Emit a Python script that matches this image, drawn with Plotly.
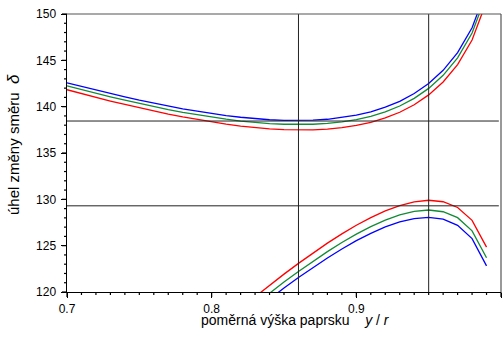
import plotly.graph_objects as go

# ratio y/r
x_vals = [0.70, 0.71, 0.72, 0.73, 0.74, 0.75, 0.76, 0.77, 0.78, 0.79,
          0.80, 0.81, 0.82, 0.83, 0.84, 0.85, 0.86, 0.87, 0.88, 0.89,
          0.90, 0.91, 0.92, 0.93, 0.94, 0.95, 0.96, 0.97, 0.98, 0.99]

# upper family (primary)
red_upper = [141.83, 141.41, 141.00, 140.61, 140.24, 139.87, 139.53, 139.20, 138.89, 138.62,
             138.35, 138.12, 137.91, 137.74, 137.61, 137.52, 137.49, 137.50, 137.58, 137.73,
             137.97, 138.31, 138.78, 139.40, 140.21, 141.27, 142.66, 144.54, 147.19, 151.36]
green_upper = [142.25, 141.84, 141.45, 141.06, 140.70, 140.34, 140.01, 139.69, 139.39, 139.13,
               138.87, 138.65, 138.45, 138.29, 138.17, 138.10, 138.07, 138.10, 138.19, 138.35,
               138.61, 138.96, 139.44, 140.07, 140.90, 141.97, 143.38, 145.27, 147.94, 152.13]
blue_upper = [142.57, 142.17, 141.78, 141.40, 141.05, 140.70, 140.37, 140.06, 139.77, 139.51,
              139.26, 139.04, 138.86, 138.71, 138.59, 138.53, 138.51, 138.54, 138.64, 138.82,
              139.08, 139.45, 139.94, 140.58, 141.42, 142.50, 143.92, 145.83, 148.51, 152.71]

# lower family (secondary), from y/r = 0.83
x_lower = [0.83, 0.84, 0.85, 0.86, 0.87, 0.88, 0.89, 0.90, 0.91,
           0.92, 0.93, 0.94, 0.95, 0.96, 0.97, 0.98, 0.99]
red_lower = [119.48, 120.72, 121.93, 123.09, 124.21, 125.27, 126.27, 127.20, 128.03,
             128.75, 129.33, 129.73, 129.90, 129.74, 129.12, 127.73, 124.84]
green_lower = [118.65, 119.88, 121.07, 122.21, 123.32, 124.36, 125.34, 126.25, 127.06,
               127.76, 128.32, 128.70, 128.85, 128.66, 128.02, 126.60, 123.69]
blue_lower = [118.04, 119.25, 120.43, 121.56, 122.64, 123.67, 124.64, 125.54, 126.33,
              127.02, 127.56, 127.92, 128.05, 127.86, 127.19, 125.76, 122.82]

ref_x = [0.86, 0.95]
ref_y = [138.45, 129.3]

X_RANGE = [0.7, 1.0]
Y_RANGE = [120, 150]

RED = "#ff0000"
GREEN = "#138a36"
BLUE = "#0000ff"

fig = go.Figure()
series = [
    (x_vals, red_upper, RED), (x_vals, green_upper, GREEN), (x_vals, blue_upper, BLUE),
    (x_lower, red_lower, RED), (x_lower, green_lower, GREEN), (x_lower, blue_lower, BLUE),
]
for xs, ys, c in series:
    fig.add_trace(go.Scatter(x=xs, y=ys, mode="lines", line=dict(color=c, width=1.3),
                             showlegend=False, hoverinfo="skip"))

shapes = []
for xv in ref_x:
    shapes.append(dict(type="line", xref="x", yref="paper", x0=xv, x1=xv, y0=0, y1=1,
                       line=dict(color="#222", width=1), layer="above"))
for yv in ref_y:
    shapes.append(dict(type="line", xref="paper", yref="y", x0=0, x1=0.995, y0=yv, y1=yv,
                       line=dict(color="#222", width=1), layer="above"))
# frame top and right
shapes.append(dict(type="line", xref="paper", yref="paper", x0=0, x1=1, y0=1, y1=1,
                   line=dict(color="#555", width=1.2)))
shapes.append(dict(type="line", xref="paper", yref="paper", x0=1, x1=1, y0=0, y1=1,
                   line=dict(color="#555", width=1.2)))

# tick marks (outside), drawn as pixel-sized shapes at the axis tick values
tick_line = dict(color="black", width=1.2)
for k in range(31):  # x: every 0.01, major every 0.1
    frac = k / 30.0
    length = 5 if k % 10 == 0 else 3
    shapes.append(dict(type="line", xref="paper", yref="paper", ysizemode="pixel", yanchor=0,
                       x0=frac, x1=frac, y0=0, y1=-length, line=tick_line, layer="above"))
for k in range(31):  # y: every 1, major every 5
    frac = k / 30.0
    length = 5 if k % 5 == 0 else 3
    shapes.append(dict(type="line", xref="paper", yref="paper", xsizemode="pixel", xanchor=0,
                       x0=0, x1=-length, y0=frac, y1=frac, line=tick_line, layer="above"))

font = "Liberation Sans, Arial, sans-serif"
fig.update_layout(
    width=504, height=339,
    margin=dict(l=67, r=3, t=14, b=47),
    paper_bgcolor="white", plot_bgcolor="white",
    font=dict(family=font, size=12, color="black"),
    shapes=shapes,
    xaxis=dict(range=X_RANGE, dtick=0.1, tick0=0.7,
               ticks="outside", ticklen=5, tickwidth=1.2, tickcolor="black",
               showline=True, linecolor="black", linewidth=1.2,
               showgrid=False, zeroline=False, tickfont=dict(size=12)),
    yaxis=dict(range=Y_RANGE, dtick=5, tick0=120,
               ticks="outside", ticklen=5, tickwidth=1.2, tickcolor="black",
               showline=True, linecolor="black", linewidth=1.2,
               showgrid=False, zeroline=False,
               ticksuffix="\u2009", tickfont=dict(size=12)),
    annotations=[
        dict(text="poměrná výška paprsku\u00a0\u00a0\u00a0\u00a0<i>y</i> / <i>r</i>",
             xref="paper", yref="paper",
             x=0.527, y=-0.1, xanchor="center", yanchor="middle", showarrow=False,
             font=dict(size=14)),
        dict(text="úhel změny směru\u00a0\u00a0<i><span style='font-size:17px'>δ</span></i>",
             xref="paper", yref="paper",
             x=-0.122, y=0.529, xanchor="center", yanchor="middle", showarrow=False,
             textangle=-90, font=dict(size=15)),
    ],
)

fig.write_html("out.html")
